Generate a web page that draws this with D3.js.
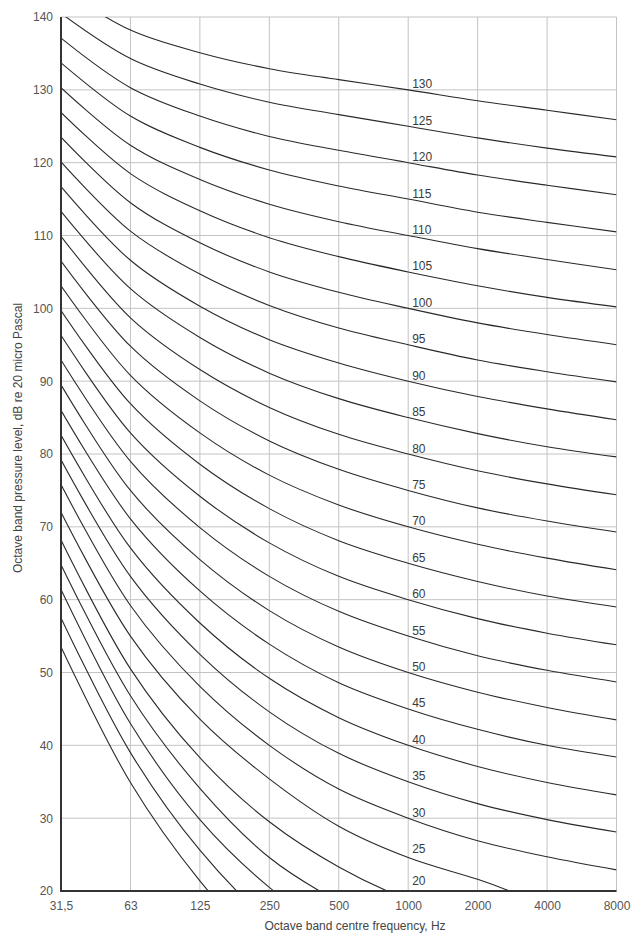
<!DOCTYPE html>
<html>
<head>
<meta charset="utf-8">
<script src="https://cdn.jsdelivr.net/npm/d3@7/dist/d3.min.js"></script>
<style>
  html, body { margin: 0; padding: 0; background: #fff; }
  svg { display: block; font-family: "Liberation Sans", Arial, Helvetica, sans-serif; }
</style>
</head>
<body>
<svg id="chart" width="633" height="934"></svg>
<script>
// Octave band centre frequencies (category labels)
const bands = ["31,5", "63", "125", "250", "500", "1000", "2000", "4000", "8000"];
// Y axis ticks
const yTicks = [20, 30, 40, 50, 60, 70, 80, 90, 100, 110, 120, 130, 140];
// NR curve levels
const nrLevels = [0, 5, 10, 15, 20, 25, 30, 35, 40, 45, 50, 55, 60, 65, 70, 75, 80, 85, 90, 95, 100, 105, 110, 115, 120, 125, 130];
// Levels that carry a label at 1000 Hz
const labelLevels = [20, 25, 30, 35, 40, 45, 50, 55, 60, 65, 70, 75, 80, 85, 90, 95, 100, 105, 110, 115, 120, 125, 130];

// Band pressure levels (dB) for each curve
const nr0   = [53.5, 34.9, 21.4, 11.2, 4.0, -1.0, -4.5, -7.0, -9.0];
const nr5   = [57.5, 39.0, 25.6, 15.8, 9.0, 4.3, 0.8, -1.6, -3.5];
const nr10  = [61.4, 43.0, 29.8, 20.5, 13.8, 9.2, 5.8, 3.4, 1.5];
const nr15  = [64.8, 46.8, 34.1, 24.6, 18.5, 14.0, 10.8, 8.5, 6.7];
const nr20  = [68.2, 50.5, 38.3, 29.5, 23.3, 18.8, 15.8, 13.5, 11.8];
const nr25  = [72.0, 55.0, 43.6, 35.4, 28.9, 24.6, 21.6, 18.3, 16.6];
const nr30  = [75.8, 59.2, 48.1, 40.0, 34.0, 30.0, 26.9, 24.7, 22.9];
const nr35  = [79.2, 63.2, 52.5, 44.6, 38.9, 35.0, 32.0, 29.8, 28.1];
const nr40  = [82.6, 67.1, 56.8, 49.2, 43.8, 40.0, 37.1, 34.9, 33.2];
const nr45  = [86.0, 71.1, 61.2, 53.9, 48.6, 45.0, 42.2, 40.0, 38.4];
const nr50  = [89.5, 75.0, 65.5, 58.5, 53.5, 50.0, 47.3, 45.2, 43.5];
const nr55  = [92.9, 79.0, 69.9, 63.2, 58.4, 55.0, 52.3, 50.3, 48.7];
const nr60  = [96.3, 82.9, 74.2, 67.8, 63.2, 60.0, 57.4, 55.4, 53.8];
const nr65  = [99.7, 86.9, 78.6, 72.5, 68.1, 65.0, 62.5, 60.5, 59.0];
const nr70  = [103.1, 90.8, 82.9, 77.1, 73.0, 70.0, 67.6, 65.7, 64.1];
const nr75  = [106.5, 94.8, 87.3, 81.8, 77.9, 75.0, 72.6, 70.8, 69.3];
const nr80  = [109.9, 98.7, 91.6, 86.4, 82.7, 80.0, 77.7, 75.9, 74.4];
const nr85  = [113.3, 102.7, 96.0, 91.1, 87.6, 85.0, 82.8, 81.0, 79.6];
const nr90  = [116.7, 106.6, 100.3, 95.7, 92.5, 90.0, 87.9, 86.2, 84.7];
const nr95  = [120.1, 110.6, 104.7, 100.4, 97.3, 95.0, 92.9, 91.3, 89.9];
const nr100 = [123.5, 114.5, 109.0, 105.0, 102.2, 100.0, 98.0, 96.4, 95.0];
const nr105 = [126.9, 118.5, 113.4, 109.7, 107.1, 105.0, 103.1, 101.5, 100.2];
const nr110 = [130.3, 122.4, 117.7, 114.3, 111.9, 110.0, 108.2, 106.7, 105.3];
const nr115 = [133.7, 126.4, 122.1, 119.0, 116.8, 115.0, 113.2, 111.8, 110.5];
const nr120 = [137.1, 130.3, 126.4, 123.6, 121.7, 120.0, 118.3, 116.9, 115.6];
const nr125 = [140.5, 134.3, 130.8, 128.3, 126.6, 125.0, 123.4, 122.0, 120.8];
const nr130 = [143.9, 138.2, 135.1, 132.9, 131.4, 130.0, 128.5, 127.2, 125.9];

const curves = [nr0, nr5, nr10, nr15, nr20, nr25, nr30, nr35, nr40, nr45, nr50, nr55, nr60,
  nr65, nr70, nr75, nr80, nr85, nr90, nr95, nr100, nr105, nr110, nr115, nr120, nr125, nr130];

const yTitle = "Octave band pressure level, dB re 20 micro Pascal";
const xTitle = "Octave band centre frequency, Hz";

// ---- layout ----
const plotL = 61, plotR = 616.5, plotT = 17, plotB = 891;
const svg = d3.select("#chart");

const x = d3.scalePoint().domain(bands).range([plotL, plotR]);
const y = d3.scaleLinear().domain([20, 140]).range([plotB, plotT]);

// clip
svg.append("defs").append("clipPath").attr("id", "plotclip")
  .append("rect").attr("x", plotL).attr("y", plotT).attr("width", plotR - plotL).attr("height", plotB - plotT);

// grid
const grid = svg.append("g").attr("stroke", "#c3c3c3").attr("stroke-width", 1);
grid.selectAll("line.v").data(bands).join("line").attr("class", "v")
  .attr("x1", d => x(d)).attr("x2", d => x(d)).attr("y1", plotT).attr("y2", plotB);
grid.selectAll("line.h").data(yTicks).join("line").attr("class", "h")
  .attr("x1", plotL).attr("x2", plotR).attr("y1", d => y(d)).attr("y2", d => y(d));

// curves
const line = d3.line()
  .x((d, i) => x(bands[i]))
  .y(d => y(d))
  .curve(d3.curveCatmullRom.alpha(0.5));

svg.append("g").attr("clip-path", "url(#plotclip)")
  .selectAll("path").data(curves).join("path")
  .attr("d", d => line(d))
  .attr("fill", "none")
  .attr("stroke", "#2a2a2a")
  .attr("stroke-width", 1.1);

// axes (left and bottom), no tick marks
const yAxis = d3.axisLeft(y).tickValues(yTicks).tickSize(0).tickPadding(8);
const yg = svg.append("g").attr("transform", `translate(${plotL},0)`).call(yAxis);
yg.select(".domain").remove();
yg.selectAll("text").attr("font-size", 12).attr("fill", "#555").attr("font-family", "Liberation Sans, Arial, sans-serif");

const xAxis = d3.axisBottom(x).tickSize(0).tickPadding(10);
const xg = svg.append("g").attr("transform", `translate(0,${plotB})`).call(xAxis);
xg.select(".domain").remove();
xg.selectAll("text").attr("font-size", 12).attr("fill", "#555").attr("font-family", "Liberation Sans, Arial, sans-serif");

svg.append("line").attr("x1", plotL).attr("x2", plotL).attr("y1", plotT).attr("y2", plotB + 1)
  .attr("stroke", "#333").attr("stroke-width", 2);
svg.append("line").attr("x1", plotL - 1).attr("x2", plotR).attr("y1", plotB).attr("y2", plotB)
  .attr("stroke", "#333").attr("stroke-width", 2);

// curve labels at 1000 Hz
svg.append("g").selectAll("text").data(labelLevels).join("text")
  .attr("x", x("1000") + 4)
  .attr("y", d => Math.min(y(d) - 1.5, 885))
  .attr("font-size", 12)
  .attr("fill", "#3a3a3a")
  .text(d => d);

// titles
svg.append("text")
  .attr("x", 355)
  .attr("y", 930)
  .attr("text-anchor", "middle")
  .attr("font-size", 12)
  .attr("fill", "#444")
  .text(xTitle);

svg.append("text")
  .attr("transform", `translate(21.5,438) rotate(-90)`)
  .attr("text-anchor", "middle")
  .attr("font-size", 12)
  .attr("fill", "#444")
  .text(yTitle);
</script>
</body>
</html>
